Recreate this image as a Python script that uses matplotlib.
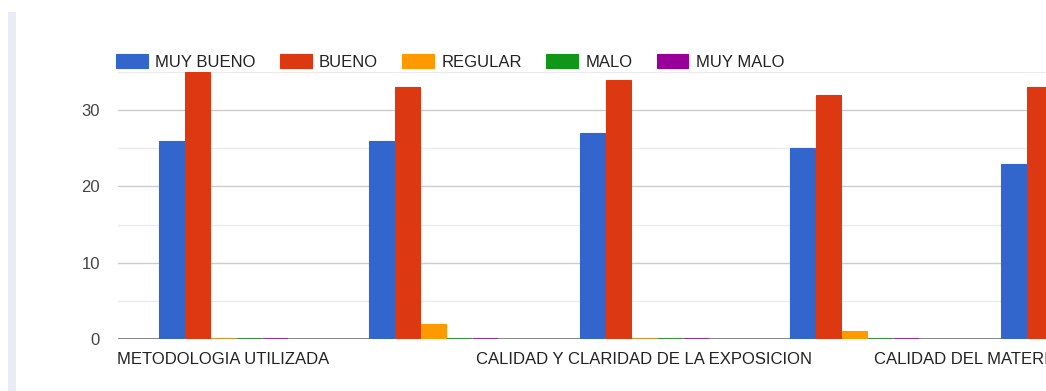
import matplotlib
matplotlib.use("Agg")
import matplotlib.pyplot as plt
import numpy as np

plt.rcParams['font.family'] = ['Liberation Sans', 'DejaVu Sans']

# categories along x (only every other label is printed)
categories = ["METODOLOGIA UTILIZADA", "", "CALIDAD Y CLARIDAD DE LA EXPOSICION", "",
              "CALIDAD DEL MATERIAL DIDACTICO UTILIZADO"]
series = ["MUY BUENO", "BUENO", "REGULAR", "MALO", "MUY MALO"]
muy_bueno = [26, 26, 27, 25, 23]
bueno = [35, 33, 34, 32, 33]
regular = [0, 2, 0, 1, 0]
malo = [0, 0, 0, 0, 0]
muy_malo = [0, 0, 0, 0, 0]
colors = ["#3366cc", "#dc3912", "#ff9900", "#109618", "#990099"]

W, H = 1046, 391
fig = plt.figure(figsize=(W / 100, H / 100), dpi=100)
fig.patch.set_facecolor("white")

# thin lavender strip on the left edge
fig.patches.append(plt.Rectangle((8 / W, 0), 8 / W, 1 - 12 / H, transform=fig.transFigure,
                                  facecolor="#ebebf5", edgecolor="none"))

ax = fig.add_axes([118 / W, 52 / H, 1052.5 / W, 267 / H])

x = np.arange(len(categories))
bw = 0.1235
for i, (name, vals) in enumerate(zip(series, [muy_bueno, bueno, regular, malo, muy_malo])):
    xs = x + (i - 2) * bw
    ax.bar(xs, vals, width=bw * 0.97, color=colors[i], edgecolor=colors[i],
           linewidth=0.8, label=name, zorder=3)
    # zero values still show up as a thin coloured line on the baseline
    zero = np.array(vals) == 0
    ax.hlines(np.array(vals)[zero], xs[zero] - bw * 0.48, xs[zero] + bw * 0.48,
              color=colors[i], linewidth=1.6, alpha=0.6, zorder=4)

ax.set_xlim(-0.5, len(categories) - 0.5)
ax.set_ylim(0, 35)
ax.set_yticks([0, 10, 20, 30])
ax.set_yticks([5, 15, 25, 35], minor=True)
ax.grid(axis="y", which="major", color="#cccccc", linewidth=1, zorder=0)
ax.grid(axis="y", which="minor", color="#ebebeb", linewidth=1, zorder=0)
ax.axhline(0, color="#666666", linewidth=1.8, zorder=2)

for s in ax.spines.values():
    s.set_visible(False)
ax.tick_params(axis="both", which="both", length=0, labelsize=12, colors="#444444")
ax.tick_params(axis="y", pad=13)
ax.tick_params(axis="x", pad=9)
ax.set_xticks(x)
ax.set_xticklabels(categories, color="#222222")

fig.legend(loc="center left", bbox_to_anchor=(116 / W, 1 - 62 / H), ncol=5, frameon=False,
           fontsize=12, handlelength=1.9, handleheight=0.9, handletextpad=0.45,
           columnspacing=1.45, borderpad=0, borderaxespad=0, labelcolor="#222222")

fig.savefig("out.png", dpi=100)
